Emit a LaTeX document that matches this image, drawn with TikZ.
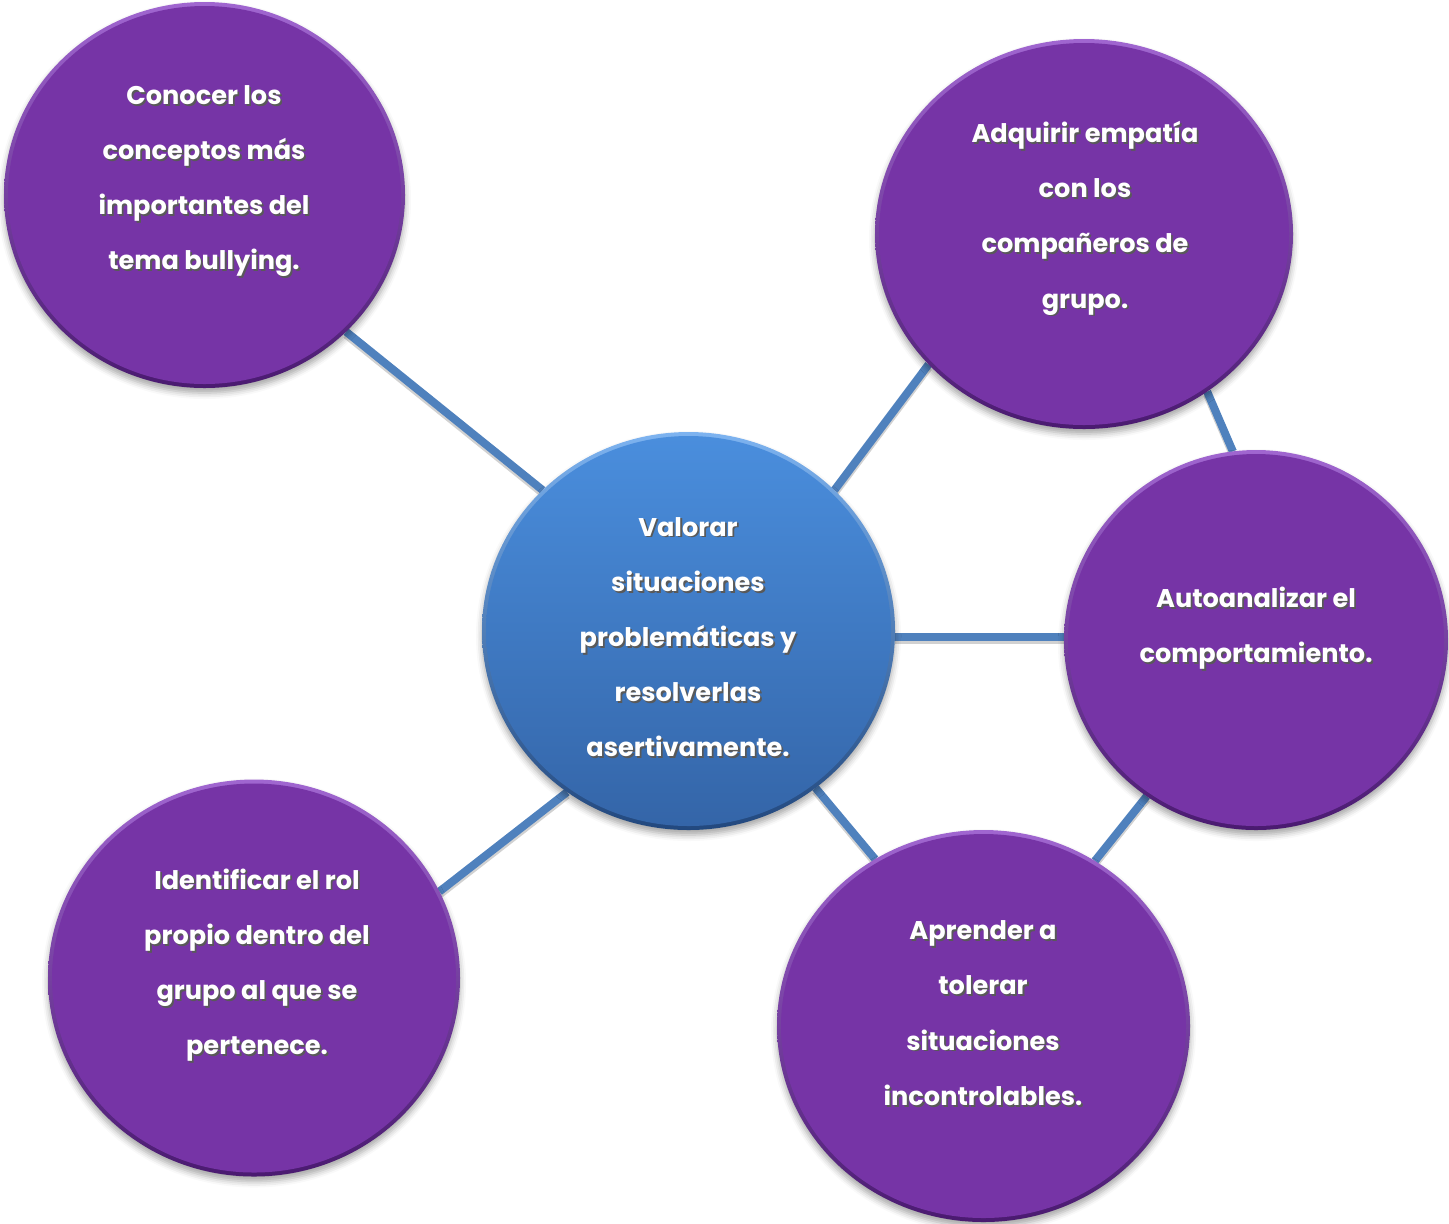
\documentclass[tikz,border=0pt]{standalone}
\usepackage{fontspec}
\newfontfamily\cf{Poppins}
\usetikzlibrary{shapes.geometric,shadows.blur,backgrounds}
\definecolor{pbody}{HTML}{7634A6}
\definecolor{primtop}{HTML}{A066D0}
\definecolor{primbot}{HTML}{4A1A70}
\definecolor{btop}{HTML}{4A8EDD}
\definecolor{bbot}{HTML}{3465A8}
\definecolor{brimtop}{HTML}{7DB3F0}
\definecolor{brimbot}{HTML}{22487E}
\definecolor{linkc}{HTML}{4F81BD}
\newcommand\sh[1]{\leavevmode\rlap{\kern0.9pt\raisebox{-0.9pt}{\color{black!65}#1}}#1}
\tikzset{
 bub/.style={ellipse, inner sep=0pt, outer sep=0pt,
   blur shadow={shadow xshift=0pt, shadow yshift=-2.5pt, shadow opacity=35, shadow blur radius=3pt}},
 prim/.style={bub, top color=primtop, bottom color=primbot},
 brim/.style={bub, top color=brimtop, bottom color=brimbot},
 lbl/.style={align=center, text=white, inner sep=0pt,
   font=\cf\bfseries\fontsize{12.8}{27.6}\selectfont},
 conn/.style={draw=linkc, line width=4pt,
   preaction={draw=black, opacity=.18, line width=4pt, transform canvas={yshift=-1.5pt}}}
}
\newcommand\pbub[5]{%
  \node[prim, minimum width=#4*0.5pt, minimum height=#5*0.5pt] (#1) at (#2,#3) {};
  \fill[pbody] (#1.center) ellipse [x radius=#4*0.25pt-2pt, y radius=#5*0.25pt-2pt];}
\begin{document}
\begin{tikzpicture}[x=0.5pt,y=-0.5pt]
\useasboundingbox (0,0) rectangle (1449,1223);
% central bubble
\node[brim, minimum width=206.5pt, minimum height=199pt] (c0) at (688.5,631) {};
\shade[top color=btop, bottom color=bbot] (c0.center) ellipse [x radius=101.25pt, y radius=97.5pt];
% outer bubbles
\pbub{c1}{204.5}{195}{401}{386}
\pbub{c2}{1084}{234}{418}{390}
\pbub{c3}{1256}{640}{384}{380}
\pbub{c4}{254}{978}{412}{397}
\pbub{c5}{983.5}{1026}{413}{392}
% connectors
\begin{scope}[on background layer]
\draw[conn] (c1.-44.2) -- (c0.136.5);
\draw[conn] (c0.44.9) -- (c2.-140.4);
\draw[conn] (c2.-52.3) -- (c3.97.8);
\draw[conn] ([yshift=-3pt]c0.east) -- ([yshift=1.5pt]c3.west);
\draw[conn] (c3.-125.6) -- (c5.56.9);
\draw[conn] (c0.-51) -- (c5.123.6);
\draw[conn] (c0.-127.8) -- (c4.25.3);
\end{scope}
% texts
\node[lbl] (t0) at (688,638) {\sh{Valorar}\\\sh{situaciones}\\\sh{problemáticas y}\\\sh{resolverlas}\\\sh{asertivamente.}};
\node[lbl] (t1) at (204,182) {\sh{Conocer los}\\\sh{conceptos más}\\\sh{importantes del}\\\sh{tema bullying.}};
\node[lbl] (t2) at (1085,219) {\sh{Adquirir empatía}\\\sh{con los}\\\sh{compañeros de}\\\sh{grupo.}};
\node[lbl] (t3) at (1256,629) {\sh{Autoanalizar el}\\\sh{comportamiento.}};
\node[lbl] (t4) at (257,966) {\sh{Identificar el rol}\\\sh{propio dentro del}\\\sh{grupo al que se}\\\sh{pertenece.}};
\node[lbl] (t5) at (983,1014) {\sh{Aprender a}\\\sh{tolerar}\\\sh{situaciones}\\\sh{incontrolables.}};
\end{tikzpicture}
\end{document}
